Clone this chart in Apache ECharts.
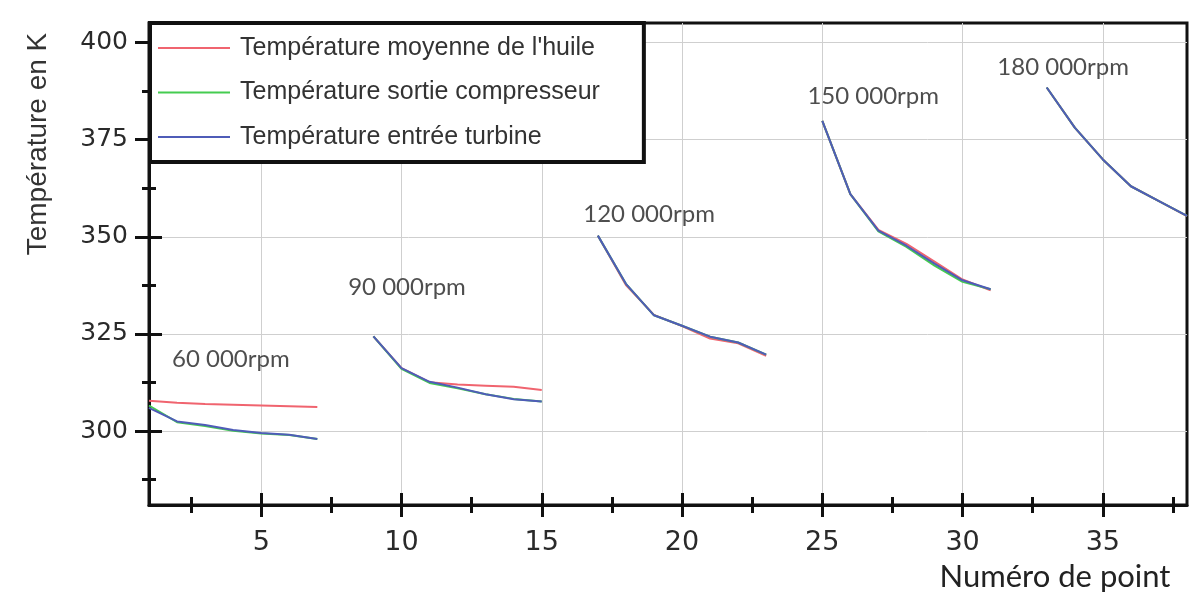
<!DOCTYPE html>
<html><head><meta charset="utf-8">
<script src="https://cdn.jsdelivr.net/npm/echarts@6/dist/echarts.min.js"></script>
<style>html,body{margin:0;padding:0;background:#fff}#c{width:1201px;height:601px}</style>
</head><body><div id="c"></div>
<script>
// ---- data ----
const pointNumbers = [1,2,3,4,5,6,7,8,9,10,11,12,13,14,15,16,17,18,19,20,21,22,23,24,25,26,27,28,29,30,31,32,33,34,35,36,37,38];
const seriesNames = ["Température moyenne de l'huile", "Température sortie compresseur", "Température entrée turbine"];
const oilTemp = [307.8,307.3,307.0,306.8,306.6,306.4,306.2,null,
  324.4,316.2,312.6,312.0,311.7,311.4,310.6,null,
  350.3,337.6,329.9,327.0,323.8,322.6,319.4,null,
  379.8,361.0,351.8,348.2,343.6,339.0,336.2,null,
  388.4,378.1,369.9,363.0,359.2,355.3];
const compressorTemp = [306.6,302.3,301.3,300.1,299.4,299.0,298.0,null,
  324.4,316.0,312.4,311.0,309.5,308.3,307.6,null,
  350.3,337.9,329.8,327.1,324.3,322.8,319.7,null,
  379.8,361.0,351.4,347.4,342.6,338.4,336.5,null,
  388.4,378.1,369.9,363.0,359.2,355.4];
const turbineTemp = [306.0,302.5,301.6,300.3,299.5,299.1,298.0,null,
  324.4,316.2,312.7,311.2,309.5,308.2,307.6,null,
  350.3,337.9,329.8,327.1,324.3,322.8,319.7,null,
  379.8,361.0,351.6,347.7,343.1,338.8,336.5,null,
  388.4,378.1,369.9,363.0,359.2,355.4];
const xTickLabels = [5,10,15,20,25,30,35];
const xMinorTicks = [2.5,7.5,12.5,17.5,22.5,27.5,32.5,37.5];
const yTickLabels = [300,325,350,375,400];
const yMinorTicks = [287.5,312.5,337.5,362.5,387.5];
const speedLabels = ['60 000rpm','90 000rpm','120 000rpm','150 000rpm','180 000rpm'];
const speedLabelX = [1.82, 8.1, 16.48, 24.47, 31.24];
const speedLabelY = [318.5, 337.0, 355.8, 386.1, 393.6];
const yTitle = 'Température en K';
const xTitle = 'Numéro de point';

// ---- chart ----
const chart = echarts.init(document.getElementById('c'), null, {renderer:'canvas'});
const X_MIN = 1, X_MAX = 38, Y_MIN = 281, Y_MAX = 405;
const tickColor = '#111';

function pairs(arr){ return pointNumbers.map((n,i)=>[n, arr[i]]); }

function xAx(extra){
  return Object.assign({type:'value', min:X_MIN, max:X_MAX, position:'bottom',
    axisLine:{show:false}, axisLabel:{show:false}, splitLine:{show:false}, axisTick:{show:false}}, extra);
}
function yAx(extra){
  return Object.assign({type:'value', min:Y_MIN, max:Y_MAX, position:'left',
    axisLine:{show:false}, axisLabel:{show:false}, splitLine:{show:false}, axisTick:{show:false}}, extra);
}

const colors = ['#f0646f', '#45cc50', '#4f5cb8'];
const lineSeries = [oilTemp, compressorTemp, turbineTemp].map((arr, i) => ({
  name: seriesNames[i], type:'line', data: pairs(arr), symbol:'none', smooth:false,
  xAxisIndex:0, yAxisIndex:0, connectNulls:false,
  lineStyle:{color:colors[i], width:2}, itemStyle:{color:colors[i]}, z: 3+i, silent:true
}));

const option = {
  animation:false,
  backgroundColor:'#fff',
  grid:{left:149, top:23, right:14, bottom:96, show:true, borderColor:'#111', borderWidth:3, backgroundColor:'transparent'},
  legend:{
    orient:'vertical', left:150, top:23,
    data: seriesNames,
    icon:'rect',
    itemWidth:72, itemHeight:2, itemGap:18.5,
    padding:[12, 44, 12, 8],
    borderColor:'#111', borderWidth:4, backgroundColor:'#fff',
    textStyle:{fontFamily:'Liberation Sans', fontSize:25, color:'#333', lineHeight:26, padding:[0,0,0,5]},
    z: 10
  },
  xAxis:[
    xAx({axisLine:{show:true, lineStyle:{color:tickColor, width:3}},
      axisLabel:{show:true, customValues:xTickLabels, fontFamily:'DejaVu Sans', fontSize:27, color:'#2a2a2a', margin:24},
      axisTick:{show:true, customValues:xTickLabels, inside:false, length:12, lineStyle:{color:tickColor, width:3}},
      splitLine:{show:true, lineStyle:{color:'#cfcfcf', width:1}}}),
    xAx({axisTick:{show:true, customValues:xTickLabels, inside:true, length:12, lineStyle:{color:tickColor, width:3}}}),
    xAx({axisTick:{show:true, customValues:xMinorTicks, inside:false, length:8, lineStyle:{color:tickColor, width:3}}}),
    xAx({axisTick:{show:true, customValues:xMinorTicks, inside:true, length:8, lineStyle:{color:tickColor, width:3}}})
  ],
  yAxis:[
    yAx({axisLine:{show:true, lineStyle:{color:tickColor, width:3}},
      axisLabel:{show:true, customValues:yTickLabels, fontFamily:'DejaVu Sans', fontSize:25, color:'#2a2a2a', margin:21},
      axisTick:{show:true, customValues:yTickLabels, inside:false, length:14, lineStyle:{color:tickColor, width:3}},
      splitLine:{show:true, lineStyle:{color:'#cfcfcf', width:1}}}),
    yAx({axisTick:{show:true, customValues:yTickLabels, inside:true, length:13, lineStyle:{color:tickColor, width:3}}}),
    yAx({axisTick:{show:true, customValues:yMinorTicks, inside:false, length:7, lineStyle:{color:tickColor, width:3}}}),
    yAx({axisTick:{show:true, customValues:yMinorTicks, inside:true, length:7, lineStyle:{color:tickColor, width:3}}})
  ],
  series: lineSeries.concat([{
    type:'scatter', xAxisIndex:0, yAxisIndex:0, symbolSize:0, silent:true, z:6,
    data: speedLabels.map((t,i)=>({value:[speedLabelX[i], speedLabelY[i]], name:t})),
    label:{show:true, position:'right', distance:0, formatter: p => p.name,
      fontFamily:'Lato', fontSize:24, color:'#222', align:'left', verticalAlign:'middle'}
  }]),
  graphic:[
    {type:'text', x:38, y:144, rotation:Math.PI/2, z:10,
      style:{text:yTitle, fontFamily:'Liberation Sans', fontSize:28, fill:'#333', align:'center', verticalAlign:'middle'}},
    {type:'text', x:1055, y:577, z:10,
      style:{text:xTitle, fontFamily:'Lato', fontSize:31, fill:'#222', align:'center', verticalAlign:'middle'}}
  ]
};
chart.setOption(option);
</script></body></html>
